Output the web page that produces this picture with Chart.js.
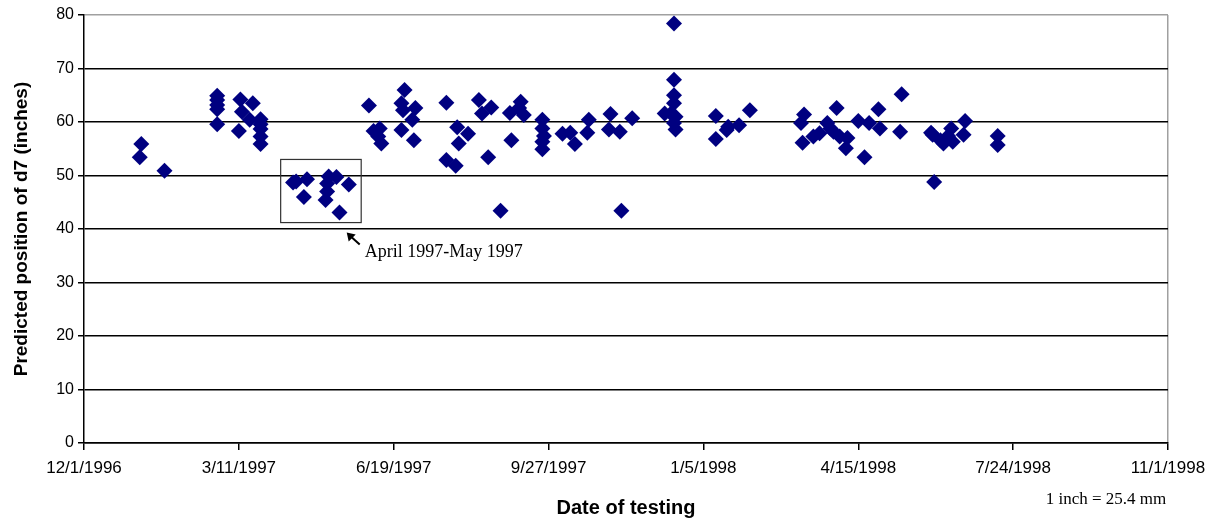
<!DOCTYPE html>
<html>
<head>
<meta charset="utf-8">
<script src="https://cdn.jsdelivr.net/npm/chart.js@4.4.1/dist/chart.umd.min.js"></script>
<style>
  html, body { margin: 0; padding: 0; background: #fff; }
  #wrap { width: 1215px; height: 520px; }
</style>
</head>
<body>
<div id="wrap"><canvas id="myChart" width="1215" height="520"></canvas></div>
<script>
// test day = days after 12/1/1996
const testDays = [
  37, 36, 52, 86, 86, 86, 86, 86, 101, 102, 109, 100, 107, 114, 114, 114, 114, 114,
  135, 137, 144, 142, 158, 157, 157, 156, 163, 165, 171,
  184, 187, 191, 190, 192, 207, 205, 206, 214, 212, 205, 213,
  234, 241, 248, 242, 234, 240, 261, 255, 257, 263, 269, 276, 275, 282, 281, 284,
  296, 296, 297, 296, 296, 309, 314, 317, 326, 325, 340, 339, 346, 347, 354,
  375, 381, 381, 381, 381, 379, 382, 381, 382, 408, 408, 415, 416, 423, 430,
  465, 463, 464, 471, 475, 480, 482, 484, 486, 488, 492, 493, 500, 504, 507, 513, 514,
  528, 527, 548, 547, 549, 555, 553, 558, 560, 561, 568, 569, 590, 590
];
// predicted d7 position, inches
const d7Values = [
  55.9, 53.4, 50.9, 64.9, 64.1, 63.2, 62.4, 59.6, 64.2, 61.9, 63.5, 58.3, 60.4, 60.5, 59.6, 58.7, 57.3, 55.9,
  48.7, 48.9, 49.3, 46.0, 49.8, 48.5, 47.0, 45.4, 49.7, 43.1, 48.3,
  63.1, 58.3, 58.8, 57.3, 56.0, 66.0, 63.5, 62.2, 62.6, 60.4, 58.5, 56.6,
  63.6, 59.0, 57.8, 56.0, 52.9, 51.8, 53.4, 64.1, 61.6, 62.7, 43.4, 56.6, 61.7, 63.8, 62.6, 61.3,
  60.4, 58.8, 57.4, 56.3, 54.9, 57.8, 58.0, 55.9, 60.4, 58.0, 61.5, 58.6, 58.2, 43.4, 60.7,
  61.6, 78.4, 67.9, 65.0, 63.5, 61.6, 61.0, 59.8, 58.6, 61.1, 56.8, 58.5, 59.1, 59.4, 62.2,
  61.4, 59.8, 56.1, 57.3, 57.9, 59.8, 58.8, 58.2, 62.6, 57.3, 55.1, 57.0, 60.2, 53.4, 59.8, 62.4, 58.8,
  65.2, 58.2, 57.6, 58.0, 48.8, 56.0, 56.6, 57.4, 58.8, 56.3, 57.6, 60.2, 57.4, 55.7
];
const xTickDays = [0, 100, 200, 300, 400, 500, 600, 700];
const yTicks = [0, 10, 20, 30, 40, 50, 60, 70, 80];

// box around the April-May 1997 group
const boxDays = [127, 179];
const boxVals = [41.2, 53];

function dayLabel(d) {
  const dt = new Date(1996, 11, 1 + d);
  return (dt.getMonth() + 1) + '/' + dt.getDate() + '/' + dt.getFullYear();
}

const points = testDays.map((d, i) => ({ x: d, y: d7Values[i] }));

const notes = {
  id: 'notes',
  afterDatasetsDraw(chart) {
    const { ctx, scales } = chart;
    const x = scales.x, y = scales.y;
    ctx.save();
    // box
    const x1 = x.getPixelForValue(boxDays[0]), x2 = x.getPixelForValue(boxDays[1]);
    const y1 = y.getPixelForValue(boxVals[1]), y2 = y.getPixelForValue(boxVals[0]);
    ctx.strokeStyle = '#333';
    ctx.lineWidth = 1.2;
    ctx.strokeRect(x1, y1, x2 - x1, y2 - y1);
    // arrow
    const tipX = x1 + (x2 - x1) * 0.82, tipY = y2 + 10;
    const tailX = tipX + 13, tailY = tipY + 12;
    ctx.strokeStyle = '#000';
    ctx.fillStyle = '#000';
    ctx.lineWidth = 2;
    ctx.beginPath();
    ctx.moveTo(tailX, tailY);
    ctx.lineTo(tipX + 3, tipY + 3);
    ctx.stroke();
    ctx.beginPath();
    ctx.moveTo(tipX, tipY);
    ctx.lineTo(tipX + 9, tipY + 2);
    ctx.lineTo(tipX + 2, tipY + 9);
    ctx.closePath();
    ctx.fill();
    // label
    ctx.font = '18px "Liberation Serif", "Times New Roman", serif';
    ctx.textAlign = 'left';
    ctx.textBaseline = 'middle';
    ctx.fillText('April 1997-May 1997', tailX + 5, tailY + 8);
    // unit note
    ctx.font = '17px "Liberation Serif", "Times New Roman", serif';
    ctx.textAlign = 'center';
    ctx.fillText('1 inch = 25.4 mm', 1106, 500);
    ctx.restore();
  }
};

const ctx = document.getElementById('myChart').getContext('2d');
new Chart(ctx, {
  type: 'scatter',
  data: {
    datasets: [{
      label: 'd7',
      data: points,
      pointStyle: 'rectRot',
      pointRadius: 8,
      pointHoverRadius: 8,
      backgroundColor: '#000080',
      borderColor: '#000080',
      borderWidth: 0
    }]
  },
  options: {
    responsive: false,
    animation: false,
    layout: { padding: { top: 15, right: 47, left: 0, bottom: 0 } },
    plugins: {
      legend: { display: false },
      tooltip: { enabled: false }
    },
    scales: {
      x: {
        type: 'linear',
        min: 0,
        max: 700,
        afterBuildTicks(scale) { scale.ticks = xTickDays.map(v => ({ value: v })); },
        afterFit(scale) { scale.height = 77; },
        ticks: {
          callback: v => dayLabel(v),
          color: '#000',
          maxRotation: 0,
          padding: 8,
          font: { family: '"Liberation Sans", Arial, sans-serif', size: 17 }
        },
        grid: {
          drawOnChartArea: true,
          color: c => (c.tick && c.tick.value === 700 ? '#a0a0a0' : 'rgba(0,0,0,0)'),
          tickColor: '#000',
          tickLength: 7,
          lineWidth: 1.5
        },
        border: { color: '#000', width: 1.5 },
        title: {
          display: true,
          text: 'Date of testing',
          color: '#000',
          padding: { top: 3, bottom: 0 },
          font: { family: '"Liberation Sans", Arial, sans-serif', size: 20, weight: 'bold' }
        }
      },
      y: {
        min: 0,
        max: 80,
        afterBuildTicks(scale) { scale.ticks = yTicks.map(v => ({ value: v })); },
        afterFit(scale) { scale.width = 84; },
        ticks: {
          color: '#000',
          padding: 4,
          font: { family: '"Liberation Sans", Arial, sans-serif', size: 16 }
        },
        grid: {
          color: c => (c.tick && c.tick.value === 80 ? '#a0a0a0' : '#000'),
          tickColor: '#000',
          tickLength: 6,
          lineWidth: 1.5
        },
        border: { color: '#000', width: 1.5 },
        title: {
          display: true,
          text: 'Predicted position of d7 (inches)',
          color: '#000',
          padding: { top: 10, bottom: 0 },
          font: { family: '"Liberation Sans", Arial, sans-serif', size: 19, weight: 'bold' }
        }
      }
    }
  },
  plugins: [notes]
});
</script>
</body>
</html>
